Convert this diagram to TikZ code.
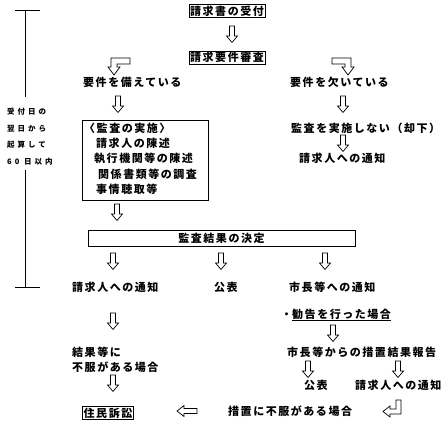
\documentclass[tikz,border=0pt]{standalone}
\usepackage{fontspec}
\usepackage{tikz}
\newfontfamily\jpfont[LetterSpace=14, BoldFeatures={LetterSpace=14}]{Noto Sans CJK JP}
\newfontfamily\jpsmall[LetterSpace=40, BoldFeatures={LetterSpace=40}]{Noto Sans CJK JP}
\tikzset{txt/.style = {font=\jpfont\bfseries\fontsize{11}{13}\selectfont, inner sep=0}}
\tikzset{ltxt/.style = {txt, anchor=west}}
\tikzset{side/.style = {font=\jpsmall\bfseries\fontsize{7.5}{9}\selectfont, inner sep=0, anchor=west}}
\tikzset{mbox/.style = {draw, line width=0.8pt, txt}}
\tikzset{hollow/.style = {draw, line width=0.7pt, fill=white, line join=miter}}
\tikzset{darr/.pic = {\draw [hollow] (-2.5,0) -- (2.5,0) -- (2.5,10) -- (5.5,10) -- (0,16.5)
                       -- (-5.5,10) -- (-2.5,10) -- cycle;}}
\tikzset{larr/.pic = {\draw [hollow] (0,0) -- (7,-5.5) -- (7,-2.5) -- (20,-2.5) -- (20,2.5)
                       -- (7,2.5) -- (7,5.5) -- cycle;}}

\begin{document}
\begin{tikzpicture}[x=1pt, y=-1pt]
    \useasboundingbox (0,0) rectangle (447,427);

    \draw [line width=0.8pt] (15,10) -- (40,10);
    \draw [line width=0.8pt] (25,10) -- (25,97);
    \node [side] (s1) at (7,112) {受付日の};
    \node [side] (s2) at (7,129) {翌日から};
    \node [side] (s3) at (7,145) {起算して};
    \node [side] (s4) at (7,162) {60 日以内};
    \draw [line width=0.8pt] (25,170) -- (25,287);
    \draw [line width=0.8pt] (15,287) -- (40,287);

    \node [mbox, inner sep=1.2pt] (uketsuke) at (227,11) {請求書の受付};
    \pic at (232,26) {darr};
    \node [mbox, inner sep=1.2pt] (shinsa) at (227,57.5) {請求要件審査};

    \draw [hollow] (111,58) -- (130,58) -- (130,64) -- (117,64) -- (117,67) -- (120,67)
        -- (114,75) -- (108,67) -- (111,67) -- cycle;
    \draw [hollow] (351,58) -- (332,58) -- (332,64) -- (345,64) -- (345,67) -- (342,67)
        -- (348,75) -- (354,67) -- (351,67) -- cycle;

    \node [ltxt] (sonae) at (83,82) {要件を備えている};
    \node [ltxt] (kaku) at (290,82) {要件を欠いている};
    \pic at (118,96) {darr};
    \pic at (343,96) {darr};

    \node [mbox, minimum width=126, minimum height=80] (jisshi) at (145,160) {};
    \node [ltxt] (j1) at (84,128) {〈監査の実施〉};
    \node [ltxt] (j2) at (96,143) {請求人の陳述};
    \node [ltxt] (j3) at (94,158) {執行機関等の陳述};
    \node [ltxt] (j4) at (98,174) {関係書類等の調査};
    \node [ltxt] (j5) at (96,189) {事情聴取等};

    \node [ltxt] (kyakka) at (291,128) {監査を実施しない（却下）};
    \pic at (343,135) {darr};
    \node [ltxt] (tsuchi1) at (299,158) {請求人への通知};

    \pic at (117,204) {darr};
    \node [mbox, minimum width=267, minimum height=16] (kettei) at (221.5,238) {監査結果の決定};

    \pic at (113,253) {darr};
    \pic at (221,253) {darr};
    \pic at (325,253) {darr};
    \node [ltxt] (tsuchi2) at (72,287) {請求人への通知};
    \node [ltxt] (kohyo1) at (214,287) {公表};
    \node [ltxt] (shicho) at (289,287) {市長等への通知};

    \pic at (113,313) {darr};
    \node [ltxt] (kankoku) at (281,315) {・\underline{勧告を行った場合}};
    \pic at (333,325) {darr};

    \node [ltxt] (fufuku1) at (72,352) {結果等に};
    \node [ltxt] (fufuku2) at (72,367) {不服がある場合};
    \node [ltxt] (hokoku) at (287,352) {市長等からの措置結果報告};
    \pic at (113,375) {darr};
    \pic at (308,361) {darr};
    \pic at (398,361) {darr};
    \node [ltxt] (kohyo2) at (304,385) {公表};
    \node [ltxt] (tsuchi3) at (355,385) {請求人への通知};

    \node [mbox, inner sep=1.2pt] (sosho) at (108,413) {住民訴訟};
    \pic at (177,411) {larr};
    \node [ltxt] (sochi) at (228,411) {措置に不服がある場合};
    \draw [hollow] (396,400) -- (401,400) -- (401,414) -- (390,414) -- (390,417) -- (383,411.5)
        -- (390,406) -- (390,409) -- (396,409) -- cycle;
\end{tikzpicture}
\end{document}
